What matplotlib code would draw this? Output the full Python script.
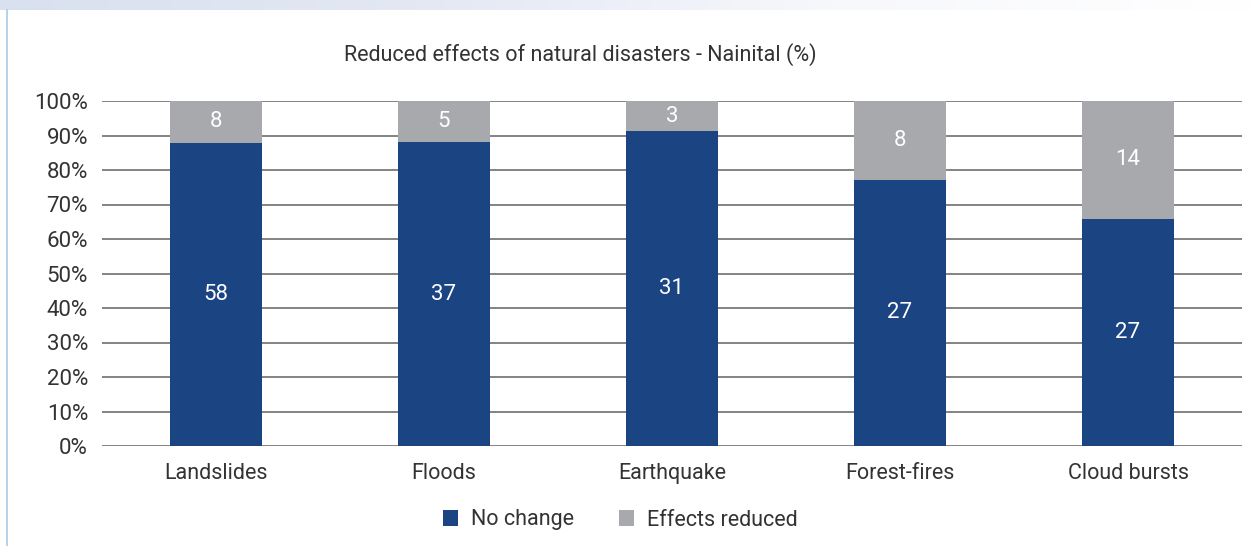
import matplotlib
matplotlib.use("Agg")
import matplotlib.pyplot as plt
import numpy as np
from matplotlib import font_manager
from matplotlib.colors import LinearSegmentedColormap

# Data: respondent counts per disaster type
categories = ["Landslides", "Floods", "Earthquake", "Forest-fires", "Cloud bursts"]
no_change = [58, 37, 31, 27, 27]
effects_reduced = [8, 5, 3, 8, 14]
series_names = ["No change", "Effects reduced"]
y_ticks = [0, 10, 20, 30, 40, 50, 60, 70, 80, 90, 100]
title = "Reduced effects of natural disasters - Nainital (%)"

BLUE = "#1b4482"
GREY = "#a7a9ac"
TEXT = "#333333"
GRID = "#7a7a7a"

names = {f.name for f in font_manager.fontManager.ttflist}
family = "Liberation Sans Narrow" if "Liberation Sans Narrow" in names else "Roboto"
plt.rcParams["font.family"] = [family, "DejaVu Sans"]

fig = plt.figure(figsize=(12.55, 5.46), dpi=100)

# decorative frame: top band and left rule
band = fig.add_axes([0, 1 - 10 / 546, 1, 10 / 546])
grad = np.linspace(0, 1, 256).reshape(1, -1)
cmap = LinearSegmentedColormap.from_list("band", ["#d9e0ef", "#e3e8f3", "#f7f8fc", "#ffffff"])
band.imshow(grad, aspect="auto", cmap=cmap, extent=[0, 1, 0, 1])
band.axis("off")
fig.add_artist(plt.Line2D([6.5 / 1255, 6.5 / 1255], [0, 1 - 10 / 546],
                          transform=fig.transFigure, color="#a9cbe8", lw=1.2))

ax = fig.add_axes([102 / 1255, 1 - 446 / 546, 1140 / 1255, 345 / 546])

nc = np.array(no_change, dtype=float)
er = np.array(effects_reduced, dtype=float)
tot = nc + er
p_nc = nc / tot * 100
p_er = er / tot * 100
x = np.arange(len(categories))
w = 0.4

ax.set_axisbelow(True)
for t in y_ticks:
    ax.axhline(t, color=GRID, lw=1.3, zorder=0)

ax.bar(x, p_nc, w, color=BLUE, label=series_names[0], zorder=2)
ax.bar(x, p_er, w, bottom=p_nc, color=GREY, label=series_names[1], zorder=2)

for i in range(len(categories)):
    ax.text(x[i], p_nc[i] / 2, f"{no_change[i]}", ha="center", va="center",
            color="white", fontsize=16)
    ax.text(x[i], p_nc[i] + p_er[i] / 2, f"{effects_reduced[i]}", ha="center", va="center",
            color="white", fontsize=16)

ax.set_xlim(-0.5, len(categories) - 0.5)
ax.set_ylim(0, 100)
ax.set_yticks(y_ticks)
ax.set_yticklabels([f"{t}%" for t in y_ticks], fontsize=16, color=TEXT)
ax.set_xticks(x)
ax.set_xticklabels(categories, fontsize=15.5, color=TEXT)
ax.tick_params(axis="both", length=0)
ax.tick_params(axis="y", pad=10)
ax.tick_params(axis="x", pad=12)
for s in ax.spines.values():
    s.set_visible(False)

fig.text(580 / 1255, 1 - 55 / 546, title, ha="center", va="center", fontsize=15.5, color=TEXT)

leg = fig.legend(loc="center", bbox_to_anchor=(620 / 1255, 1 - 520 / 546), ncol=2,
                 frameon=False, fontsize=15.5, handlelength=0.7, handleheight=0.7,
                 columnspacing=2.1, handletextpad=0.6, labelcolor=TEXT)

fig.savefig("out.png", dpi=100, facecolor="white")
